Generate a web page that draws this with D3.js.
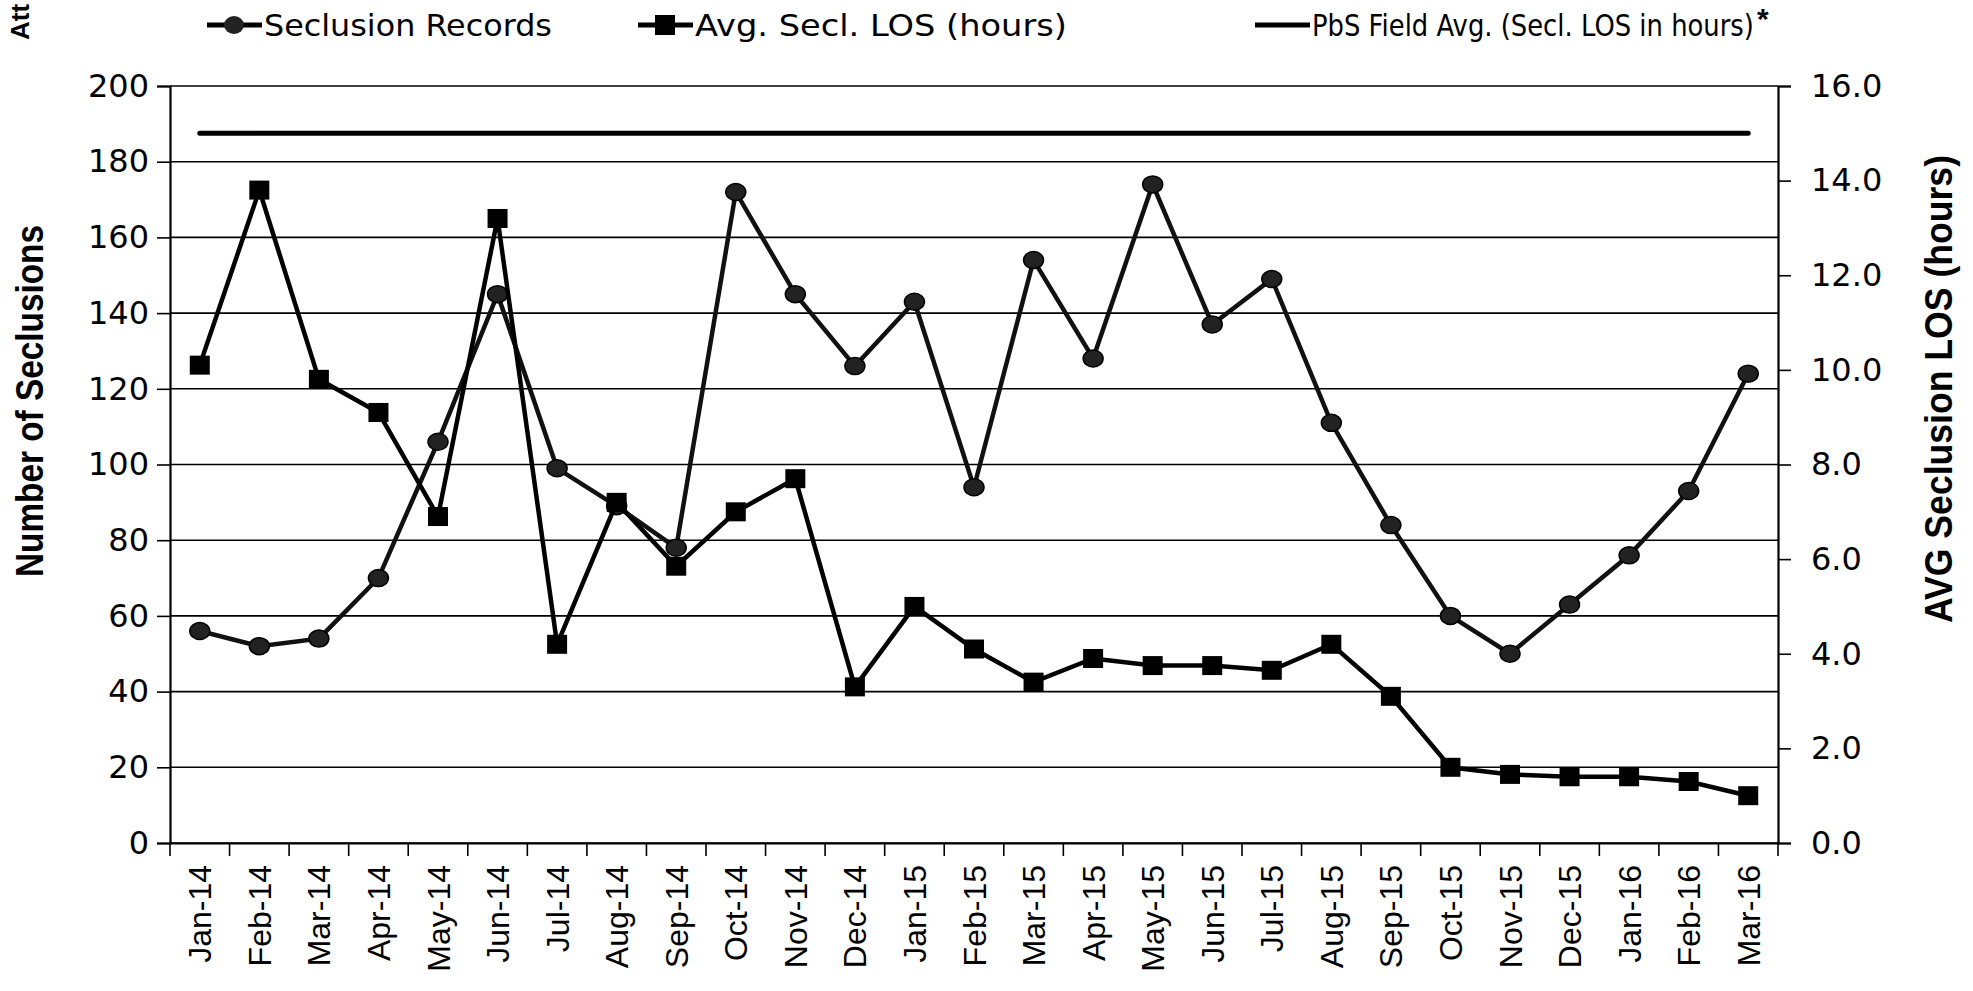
<!DOCTYPE html>
<html>
<head>
<meta charset="utf-8">
<script src="https://cdn.jsdelivr.net/npm/d3@7/dist/d3.min.js"></script>
<style>
  body { margin: 0; background: #fff; }
</style>
</head>
<body>
<div id="chart"></div>
<script>
// data
const months = ["Jan-14", "Feb-14", "Mar-14", "Apr-14", "May-14", "Jun-14", "Jul-14", "Aug-14", "Sep-14",
    "Oct-14", "Nov-14", "Dec-14", "Jan-15", "Feb-15", "Mar-15", "Apr-15", "May-15", "Jun-15", "Jul-15",
    "Aug-15", "Sep-15", "Oct-15", "Nov-15", "Dec-15", "Jan-16", "Feb-16", "Mar-16"];
const seclusionRecords = [56, 52, 54, 70, 106, 145, 99, 89, 78, 172, 145, 126, 143, 94, 154, 128, 174, 137,
    149, 111, 84, 60, 50, 63, 76, 93, 124];
const avgLosHours = [10.1, 13.8, 9.8, 9.1, 6.9, 13.2, 4.2, 7.2, 5.85, 7.0, 7.7, 3.3, 5.0, 4.1, 3.4, 3.9,
    3.75, 3.75, 3.65, 4.2, 3.1, 1.6, 1.45, 1.4, 1.4, 1.3, 1.0];
const pbsFieldAvg = [15.0, 15.0, 15.0, 15.0, 15.0, 15.0, 15.0, 15.0, 15.0, 15.0, 15.0, 15.0, 15.0, 15.0,
    15.0, 15.0, 15.0, 15.0, 15.0, 15.0, 15.0, 15.0, 15.0, 15.0, 15.0, 15.0, 15.0];
const leftTicks = [0, 20, 40, 60, 80, 100, 120, 140, 160, 180, 200];
const rightTicks = [0, 2, 4, 6, 8, 10, 12, 14, 16];
const legendLabels = ["Seclusion Records", "Avg. Secl. LOS (hours)", "PbS Field Avg. (Secl. LOS in hours)"];

const W = 1973, H = 991;
const plot = {left: 170, right: 1778, top: 86, bottom: 843};
const tickFont = "'DejaVu Sans', sans-serif";
const titleFont = "'Liberation Sans Narrow', 'Liberation Sans', Arial, sans-serif";

const svg = d3.select("#chart").append("svg")
    .attr("width", W).attr("height", H)
    .style("font-family", tickFont);

const x = d3.scaleBand().domain(months).range([plot.left, plot.right]);
const cx = d => x(d) + x.bandwidth() / 2;
const yL = d3.scaleLinear().domain([0, 200]).range([plot.bottom, plot.top]);
const yR = d3.scaleLinear().domain([0, 16]).range([plot.bottom, plot.top]);

// gridlines
svg.append("g").attr("class", "grid")
    .selectAll("line").data(leftTicks).join("line")
    .attr("x1", plot.left).attr("x2", plot.right)
    .attr("y1", d => yL(d)).attr("y2", d => yL(d))
    .attr("stroke", "#000").attr("stroke-width", 1.6);

// left axis
const axL = svg.append("g").attr("class", "axis_left")
    .attr("transform", `translate(${plot.left},0)`)
    .call(d3.axisLeft(yL).tickValues(leftTicks).tickSize(13).tickPadding(8).tickFormat(d3.format("d")));
axL.selectAll("text").style("font-size", "32px").style("font-family", tickFont).attr("fill", "#000");

// right axis
const axR = svg.append("g").attr("class", "axis_right")
    .attr("transform", `translate(${plot.right},0)`)
    .call(d3.axisRight(yR).tickValues(rightTicks).tickSize(13).tickPadding(20).tickFormat(d3.format(".1f")));
axR.selectAll("text").style("font-size", "32px").style("font-family", tickFont).attr("fill", "#000");

// bottom axis: separators between months, labels rotated
const axB = svg.append("g").attr("class", "axis_x")
    .attr("transform", `translate(0,${plot.bottom})`)
    .call(d3.axisBottom(x).tickSize(0).tickFormat(""));
axB.selectAll(".tick").remove();
axB.selectAll("line.sep")
    .data(months.concat(["end"])).join("line").attr("class", "sep")
    .attr("x1", (d, i) => plot.left + i * x.bandwidth())
    .attr("x2", (d, i) => plot.left + i * x.bandwidth())
    .attr("y1", 0).attr("y2", 13)
    .attr("stroke", "#000").attr("stroke-width", 1.6);
axB.selectAll("text.lab").data(months).join("text").attr("class", "lab")
    .attr("transform", d => `translate(${cx(d)},22) rotate(-90)`)
    .attr("text-anchor", "end").attr("dy", "0.36em")
    .style("font-size", "32px").attr("fill", "#000")
    .text(d => d);

[axL, axR, axB].forEach(a => {
    a.selectAll("path.domain").attr("stroke", "#000").attr("stroke-width", 2.2);
    a.selectAll(".tick line").attr("stroke", "#000").attr("stroke-width", 1.6);
});

// axis titles
svg.append("text")
    .attr("transform", "translate(30,401) rotate(-90)")
    .attr("text-anchor", "middle").attr("dy", "0.35em")
    .attr("textLength", 352).attr("lengthAdjust", "spacingAndGlyphs")
    .style("font-family", titleFont).style("font-weight", "bold").style("font-size", "38px")
    .text("Number of Seclusions");
svg.append("text")
    .attr("transform", "translate(1939,389) rotate(-90)")
    .attr("text-anchor", "middle").attr("dy", "0.35em")
    .attr("textLength", 468).attr("lengthAdjust", "spacingAndGlyphs")
    .style("font-family", titleFont).style("font-weight", "bold").style("font-size", "38px")
    .text("AVG Seclusion LOS (hours)");
svg.append("text")
    .attr("transform", "translate(20,40) rotate(-90)")
    .attr("text-anchor", "start").attr("dy", "0.35em")
    .style("font-family", "'Liberation Sans', Arial, sans-serif").style("font-weight", "bold").style("font-size", "26px")
    .text("Att");

// series
const line = (vals, y) => d3.line().x((d, i) => cx(months[i])).y(d => y(d))(vals);

svg.append("path").attr("d", line(pbsFieldAvg, yR))
    .attr("fill", "none").attr("stroke", "#000").attr("stroke-width", 5).attr("stroke-linecap", "round");

svg.append("path").attr("d", line(seclusionRecords, yL))
    .attr("fill", "none").attr("stroke", "#111").attr("stroke-width", 4.5);
svg.append("g").selectAll("ellipse").data(seclusionRecords).join("ellipse")
    .attr("cx", (d, i) => cx(months[i])).attr("cy", d => yL(d))
    .attr("rx", 10).attr("ry", 8.5)
    .attr("fill", "#222").attr("stroke", "#000").attr("stroke-width", 1.5);

svg.append("path").attr("d", line(avgLosHours, yR))
    .attr("fill", "none").attr("stroke", "#000").attr("stroke-width", 4.5);
svg.append("g").selectAll("rect").data(avgLosHours).join("rect")
    .attr("x", (d, i) => cx(months[i]) - 10).attr("y", d => yR(d) - 9.5)
    .attr("width", 20).attr("height", 19)
    .attr("fill", "#000");

// legend (texts squeezed horizontally to the widths seen in the picture)
const legendX = [207, 638, 1255];
const legendTextLen = [288, 372, 442];
const lg = svg.append("g").attr("class", "legend");
legendLabels.forEach((lab, i) => {
    const g = lg.append("g").attr("transform", `translate(${legendX[i]},25)`);
    g.append("line").attr("x1", 0).attr("x2", 55)
        .attr("stroke", "#000").attr("stroke-width", 5);
    if (i === 0) g.append("ellipse").attr("cx", 27).attr("rx", 10).attr("ry", 9).attr("fill", "#222");
    if (i === 1) g.append("rect").attr("x", 17).attr("y", -10).attr("width", 20).attr("height", 20).attr("fill", "#000");
    const t = g.append("text").attr("x", 0).attr("y", 0).attr("dy", "0.36em")
        .style("font-family", tickFont).style("font-size", "31px")
        .text(lab);
    const natural = t.node().getComputedTextLength();
    t.attr("transform", `translate(57,0) scale(${legendTextLen[i] / natural},1)`);
    if (i === 2) g.append("text").attr("x", 57 + legendTextLen[i] + 3).attr("y", 4)
        .style("font-family", "'Liberation Sans', Arial, sans-serif").style("font-weight", "bold").style("font-size", "30px")
        .text("*");
});
</script>
</body>
</html>
